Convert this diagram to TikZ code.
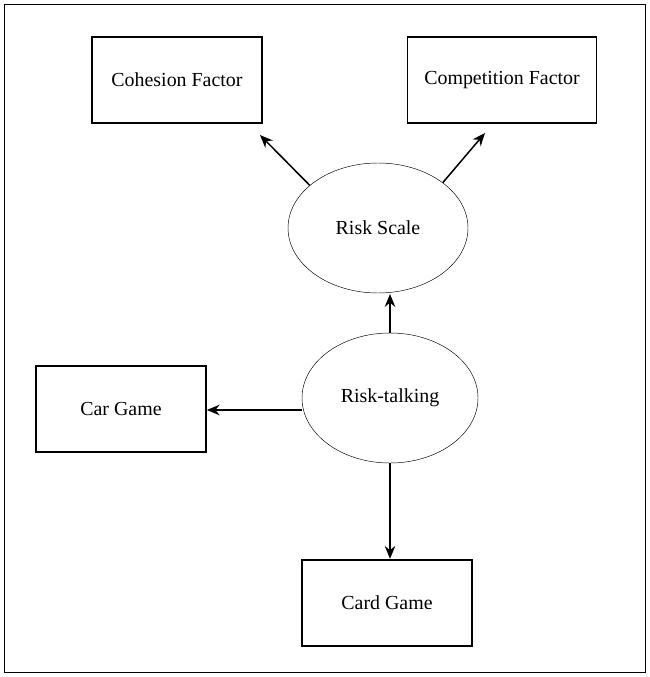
\documentclass[tikz,border=0pt]{standalone}
\usepackage{fontspec}
\setmainfont{Liberation Serif}
\usetikzlibrary{shapes.geometric, arrows.meta}
\tikzset{
  box/.style = {draw, line width = 1.3pt, minimum width = 170*0.03cm, minimum height = 86*0.03cm},
  oval/.style = {draw, ellipse, minimum width = 176*0.03cm, minimum height = 130*0.03cm},
  link/.style = {line width = 1.3pt, -{Stealth[length = 11pt, width = 9pt]}}
}
\begin{document}
\begin{tikzpicture}[x = 0.03cm, y = -0.03cm, font = \fontsize{17}{20}\selectfont]
    \useasboundingbox (0,0) rectangle (650,677);
    \draw[thin] (4,4) rectangle (645,672); % Frame
    \node[box, minimum width = 170*0.03cm] (cohesion) at (177,80) {Cohesion Factor};
    \node[box, minimum width = 189*0.03cm] (competition) at (502,80) {Competition Factor};
    \node[oval, minimum width = 180*0.03cm] (scale) at (378,228) {Risk Scale};
    \node[oval] (talking) at (390,398) {Risk-talking};
    \node[box] (car) at (121,409) {Car Game};
    \node[box, line width = 2pt] (card) at (387,603) {Card Game};
    \draw[link] (scale.148) -- (260,135);
    \draw[link] (scale.35) -- (485,133);
    \draw[link] (talking.north -| 390,0) -- (390,294);
    \draw[link] (talking.west |- 0,410) -- (car.east |- 0,410);
    \draw[link] (talking.south -| 390,0) -- (card.north -| 390,0);
\end{tikzpicture}
\end{document}
